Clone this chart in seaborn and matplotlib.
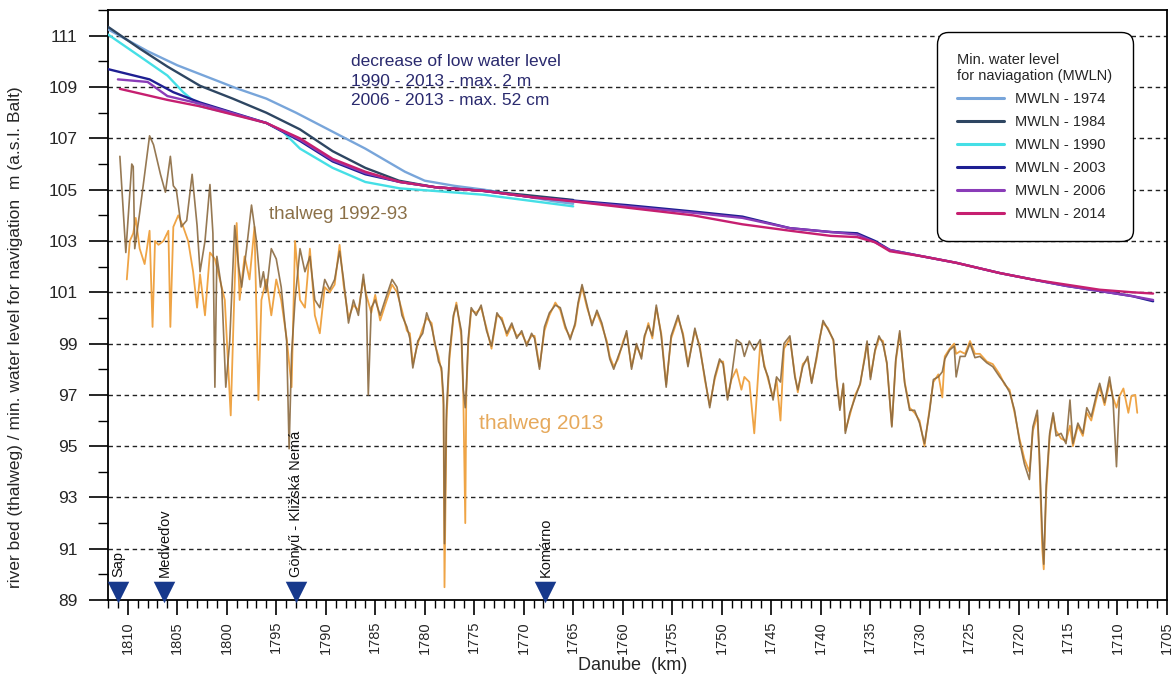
import matplotlib
matplotlib.use("Agg")
import matplotlib.pyplot as plt
import seaborn as sns
from matplotlib.ticker import MultipleLocator

# --- minimum water level for navigation (MWLN), river km vs m a.s.l. ---
km_1974 = [1812, 1808, 1805, 1802, 1799, 1796, 1793, 1790, 1788, 1786, 1784, 1782,
           1780, 1777, 1774, 1770, 1767, 1765]
wl_1974 = [111.25, 110.4, 109.85, 109.4, 108.95, 108.55, 108.0, 107.4, 107.0, 106.6,
           106.15, 105.7, 105.35, 105.15, 105.0, 104.75, 104.55, 104.45]

km_1984 = [1812, 1808.8, 1806, 1802.7, 1799.4, 1796, 1792.6, 1789.3, 1786, 1782.6,
           1779, 1774, 1770, 1765]
wl_1984 = [111.35, 110.5, 109.8, 109.05, 108.55, 108.0, 107.35, 106.5, 105.85, 105.35,
           105.1, 104.95, 104.8, 104.6]

km_1990 = [1812, 1808.8, 1806, 1804.4, 1802.7, 1799.4, 1796, 1794.3, 1792.6, 1789.3,
           1786, 1782.5, 1779, 1774, 1770, 1765]
wl_1990 = [111.05, 110.2, 109.45, 108.8, 108.25, 107.95, 107.6, 107.25, 106.6, 105.85,
           105.3, 105.05, 104.95, 104.8, 104.6, 104.35]

km_2003 = [1812, 1807.8, 1805.4, 1802.7, 1796, 1792.6, 1789.3, 1786, 1782.5, 1779,
           1774, 1769, 1766.3, 1759.6, 1752.9, 1747.9, 1743.1, 1739, 1736.3, 1734.5,
           1733, 1729.7, 1726.3, 1721.9, 1718.6, 1715.2, 1711.8, 1708.5, 1706.4]
wl_2003 = [109.7, 109.3, 108.8, 108.4, 107.6, 106.9, 106.1, 105.6, 105.3, 105.1,
           104.95, 104.7, 104.62, 104.4, 104.15, 103.95, 103.5, 103.35, 103.3, 103.0,
           102.65, 102.4, 102.15, 101.75, 101.5, 101.25, 101.05, 100.85, 100.65]

km_2006 = [1811, 1808, 1806, 1802.7, 1796, 1792.6, 1789.3, 1786, 1782.5, 1779,
           1774, 1769, 1766.3, 1759.6, 1752.9, 1747.9, 1743.1, 1739, 1736.3, 1734.5,
           1733, 1729.7, 1726.3, 1721.9, 1718.6, 1715.2, 1711.8, 1708.5, 1706.4]
wl_2006 = [109.3, 109.2, 108.65, 108.35, 107.6, 106.95, 106.15, 105.65, 105.3, 105.1,
           104.95, 104.7, 104.6, 104.35, 104.1, 103.9, 103.5, 103.35, 103.25, 102.95,
           102.65, 102.4, 102.15, 101.75, 101.5, 101.25, 101.05, 100.85, 100.7]

km_2014 = [1810.8, 1806, 1802.7, 1796, 1792.6, 1789.3, 1786, 1782.5, 1779, 1774,
           1769, 1766.3, 1759.6, 1752.9, 1747.9, 1743.1, 1739, 1736.3, 1734.5, 1733,
           1729.7, 1726.3, 1721.9, 1718.6, 1715.2, 1711.8, 1708.5, 1706.4]
wl_2014 = [108.93, 108.5, 108.25, 107.6, 107.0, 106.2, 105.7, 105.3, 105.1, 104.95,
           104.7, 104.6, 104.3, 104.0, 103.65, 103.4, 103.2, 103.15, 102.95, 102.6,
           102.4, 102.15, 101.75, 101.5, 101.3, 101.1, 101.0, 100.95]

# --- thalweg 1992-93 ---
km_tw92 = [1810.8, 1810.2, 1809.6, 1809.45, 1809.3, 1808.8, 1807.8, 1807.4, 1806.7, 1806.2,
           1805.7, 1805.4, 1805.1, 1804.6, 1804.05, 1803.5, 1803.0, 1802.7, 1802.2, 1801.7,
           1801.4, 1801.2, 1801.0, 1800.5, 1800.1, 1799.7, 1799.2, 1798.8, 1798.5, 1798.0,
           1797.5, 1797.0, 1796.6, 1796.3, 1796.0, 1795.5, 1795.0, 1794.5, 1793.95, 1793.7,
           1793.45, 1793.1, 1792.6, 1792.1, 1791.6, 1791.1, 1790.6, 1790.1, 1789.6, 1789.1,
           1788.6, 1788.2, 1787.7, 1787.2, 1786.7, 1786.2, 1785.9, 1785.7, 1785.4, 1785.0,
           1784.5, 1784.0, 1783.3, 1782.8, 1782.3, 1781.8, 1781.5, 1781.2, 1780.7, 1780.2,
           1779.8, 1779.3, 1779.0, 1778.6, 1778.3, 1778.1, 1778.0, 1777.8, 1777.5, 1777.1,
           1776.8, 1776.3, 1776.1, 1775.9, 1775.8, 1775.6, 1775.3, 1774.8, 1774.3, 1773.75,
           1773.25, 1772.7, 1772.2, 1771.7, 1771.2, 1770.7, 1770.2, 1769.7, 1769.2, 1768.9,
           1768.4, 1767.9, 1767.4, 1766.8, 1766.3, 1765.8, 1765.3, 1764.8, 1764.5, 1764.1,
           1763.6, 1763.1, 1762.6, 1762.1, 1761.6, 1761.3, 1760.9, 1760.45, 1759.95, 1759.6,
           1759.1, 1758.6, 1758.1, 1757.8, 1757.4, 1757.0, 1756.6, 1756.1, 1755.6, 1755.1,
           1754.4, 1753.9, 1753.4, 1752.7, 1752.2, 1751.7, 1751.2, 1750.7, 1750.2, 1749.85,
           1749.4, 1749.0, 1748.5, 1748.0, 1747.7, 1747.2, 1746.7, 1746.1, 1745.7, 1745.3,
           1744.8, 1744.45, 1744.05, 1743.7, 1743.1, 1742.6, 1742.3, 1741.8, 1741.3, 1740.9,
           1740.4, 1740.1, 1739.75, 1739.25, 1738.7, 1738.4, 1738.05, 1737.7, 1737.5, 1737.05,
           1736.5, 1736.0, 1735.5, 1735.3, 1734.96, 1734.5, 1734.1, 1733.7, 1733.3, 1732.8,
           1732.4, 1732.0, 1731.5, 1731.0, 1730.5, 1730.0, 1729.5, 1728.97, 1728.6, 1728.1,
           1727.7, 1727.45, 1726.95, 1726.5, 1726.3, 1725.9, 1725.4, 1724.9, 1724.4, 1723.9,
           1723.2, 1722.6, 1721.9, 1721.4, 1720.9, 1720.4, 1719.9, 1719.4, 1718.9, 1718.55,
           1718.1, 1717.9, 1717.6, 1717.45, 1717.2, 1716.85, 1716.5, 1716.2, 1715.7, 1715.2,
           1714.8, 1714.5, 1714.0, 1713.5, 1713.1, 1712.65, 1712.1, 1711.8, 1711.3, 1710.8,
           1710.45, 1710.1, 1709.8]
z_tw92 = [106.3, 102.55, 106.0, 105.9, 102.7, 104.1, 107.1, 106.75, 105.6, 104.9,
          106.3, 105.15, 105.0, 103.55, 103.8, 105.6, 103.6, 101.8, 103.0, 105.2,
          103.3, 97.3, 102.4, 101.1, 97.3, 99.1, 103.6, 102.0, 101.2, 102.7,
          104.4, 103.0, 101.2, 101.8, 101.0, 102.7, 102.3, 101.2, 99.1, 94.9,
          98.6, 100.7, 102.7, 101.8, 102.4, 100.7, 100.4, 101.5, 101.1, 101.5,
          102.6, 101.5, 99.8, 100.7, 100.1, 101.7, 100.7, 97.0, 100.4, 100.7,
          100.1, 100.7, 101.5, 101.2, 100.1, 99.65, 99.2, 98.05, 99.1, 99.4,
          100.2, 99.65, 99.1, 98.3, 98.05, 96.9, 91.2, 96.4, 98.6, 100.1,
          100.5, 99.5, 97.2, 96.5, 97.2, 99.2, 100.4, 100.1, 100.5, 99.5,
          98.9, 100.2, 99.9, 99.4, 99.8, 99.2, 99.5, 98.9, 99.4, 99.2,
          98.0, 99.65, 100.2, 100.5, 100.4, 99.7, 99.15, 99.8, 100.6, 101.3,
          100.5, 99.7, 100.3, 99.8, 99.0, 98.4, 98.0, 98.5, 99.0, 99.5,
          98.0, 99.0, 98.4, 99.3, 99.7, 99.3, 100.5, 99.3, 97.3, 99.3,
          100.1, 99.3, 98.1, 99.6, 98.8, 97.7, 96.5, 97.7, 98.4, 98.2,
          96.8, 97.7, 99.15, 99.0, 98.5, 99.1, 98.75, 99.15, 98.1, 97.7,
          96.8, 97.7, 97.5, 99.0, 99.3, 97.7, 97.2, 98.1, 98.5, 97.45,
          98.5, 99.15, 99.9, 99.55, 99.15, 97.6, 96.4, 97.45, 95.5, 96.3,
          96.9, 97.45, 98.5, 99.1, 97.6, 98.75, 99.3, 99.0, 98.25, 95.75,
          98.4, 99.5, 97.45, 96.4, 96.4, 95.9, 95.1, 96.4, 97.6, 97.7,
          97.9, 98.4, 98.75, 98.9, 97.7, 98.5, 98.5, 99.0, 98.45, 98.5,
          98.25, 98.1, 97.7, 97.45, 97.1, 96.4, 95.2, 94.3, 93.7, 95.75,
          96.4, 94.8, 91.6, 90.4, 93.5, 95.5, 96.3, 95.4, 95.5, 95.1,
          96.8, 95.1, 95.9, 95.5, 96.5, 96.15, 97.05, 97.45, 96.7, 97.7,
          96.8, 94.2, 96.9]

# --- thalweg 2013 ---
km_tw13 = [1810.1, 1809.8, 1809.45, 1809.2, 1808.8, 1808.3, 1807.8, 1807.5, 1807.25, 1806.9,
           1806.4, 1805.9, 1805.7, 1805.4, 1804.9, 1804.4, 1803.9, 1803.4, 1803.0, 1802.7,
           1802.2, 1801.7, 1801.2, 1800.7, 1800.2, 1799.6, 1799.3, 1799.0, 1798.7, 1798.2,
           1797.7, 1797.2, 1796.8, 1796.5, 1796.0, 1795.5, 1795.0, 1794.5, 1793.95, 1793.45,
           1793.1, 1792.6, 1792.1, 1791.6, 1791.1, 1790.6, 1790.1, 1789.6, 1789.1, 1788.6,
           1788.2, 1787.7, 1787.2, 1786.7, 1786.2, 1785.9, 1785.4, 1785.0, 1784.5, 1784.0,
           1783.3, 1782.8, 1782.3, 1781.8, 1781.5, 1781.2, 1780.7, 1780.2, 1779.8, 1779.3,
           1779.0, 1778.6, 1778.3, 1778.1, 1778.0, 1777.8, 1777.5, 1777.1, 1776.8, 1776.3,
           1776.1, 1775.9, 1775.8, 1775.6, 1775.3, 1774.8, 1774.3, 1773.75, 1773.25, 1772.7,
           1772.2, 1771.7, 1771.2, 1770.7, 1770.2, 1769.7, 1769.2, 1768.9, 1768.4, 1767.9,
           1767.4, 1766.8, 1766.3, 1765.8, 1765.3, 1764.8, 1764.5, 1764.1, 1763.6, 1763.1,
           1762.6, 1762.1, 1761.6, 1761.3, 1760.9, 1760.45, 1759.95, 1759.6, 1759.1, 1758.6,
           1758.1, 1757.8, 1757.4, 1757.0, 1756.6, 1756.1, 1755.6, 1755.1, 1754.4, 1753.9,
           1753.4, 1752.7, 1752.2, 1751.7, 1751.2, 1750.7, 1750.2, 1749.85, 1749.4, 1749.0,
           1748.5, 1748.0, 1747.7, 1747.2, 1746.7, 1746.1, 1745.7, 1745.3, 1744.8, 1744.45,
           1744.05, 1743.7, 1743.1, 1742.6, 1742.3, 1741.8, 1741.3, 1740.9, 1740.4, 1740.1,
           1739.75, 1739.25, 1738.7, 1738.4, 1738.05, 1737.7, 1737.5, 1737.05, 1736.5, 1736.0,
           1735.5, 1735.3, 1734.96, 1734.5, 1734.1, 1733.7, 1733.3, 1732.8, 1732.4, 1732.0,
           1731.5, 1731.0, 1730.5, 1730.0, 1729.5, 1728.97, 1728.6, 1728.1, 1727.7, 1727.45,
           1726.95, 1726.5, 1726.3, 1725.9, 1725.4, 1724.9, 1724.4, 1723.9, 1723.2, 1722.6,
           1721.9, 1721.4, 1720.9, 1720.4, 1719.9, 1719.4, 1718.9, 1718.55, 1718.1, 1717.9,
           1717.6, 1717.45, 1717.2, 1716.85, 1716.5, 1716.2, 1715.7, 1715.2, 1714.8, 1714.5,
           1714.0, 1713.5, 1713.1, 1712.65, 1712.1, 1711.8, 1711.3, 1710.8, 1710.45, 1710.1,
           1709.8, 1709.4, 1708.9, 1708.6, 1708.2, 1708.0]
z_tw13 = [101.5, 103.0, 103.3, 103.9, 102.7, 102.1, 103.4, 99.65, 103.0, 102.85,
          103.0, 103.4, 99.65, 103.55, 104.0, 103.55, 103.0, 101.8, 100.4, 101.7,
          100.1, 102.55, 102.3, 101.5, 100.7, 96.2, 100.1, 103.7, 100.7, 102.4,
          101.5, 103.55, 96.8, 100.7, 101.5, 100.1, 101.5, 100.7, 99.2, 97.3,
          103.0, 100.7, 100.4, 102.7, 100.1, 99.4, 101.2, 101.0, 101.3, 102.85,
          101.3, 100.0, 100.5, 100.3, 101.5, 100.9, 100.2, 100.9, 99.9, 100.5,
          101.3, 101.0, 100.3, 99.5, 99.4, 98.2, 99.0, 99.6, 100.0, 99.8,
          99.0, 98.5, 97.9, 96.6, 89.5, 96.0, 98.4, 100.0, 100.6, 99.3,
          97.0, 92.0, 97.0, 99.0, 100.3, 100.2, 100.4, 99.6, 98.8, 100.1,
          100.0, 99.3, 99.7, 99.3, 99.4, 99.0, 99.3, 99.3, 98.1, 99.5,
          100.1, 100.6, 100.3, 99.6, 99.25, 99.7, 100.5, 101.2, 100.4, 99.8,
          100.2, 99.7, 99.1, 98.5, 98.1, 98.4, 99.1, 99.4, 98.1, 98.9,
          98.5, 99.2, 99.8, 99.2, 100.4, 99.4, 97.4, 99.2, 100.0, 99.4,
          98.2, 99.5, 98.9, 97.6, 96.6, 97.6, 98.3, 98.3, 96.9, 97.6,
          98.0, 97.2, 97.7, 97.5, 95.5, 99.0, 98.2, 97.6, 96.9, 97.6,
          96.0, 98.8, 99.2, 97.8, 97.1, 98.2, 98.4, 97.5, 98.4, 99.2,
          99.8, 99.6, 99.1, 97.7, 96.5, 97.4, 95.6, 96.2, 97.0, 97.4,
          98.6, 99.0, 97.7, 98.7, 99.2, 99.1, 98.2, 95.8, 98.3, 99.4,
          97.5, 96.5, 96.3, 96.0, 95.0, 96.5, 97.5, 97.8, 96.9, 98.5,
          98.8, 99.0, 98.6, 98.7, 98.6, 99.1, 98.6, 98.6, 98.3, 98.2,
          97.8, 97.4, 97.2, 96.3, 95.3, 94.5, 94.0, 95.6, 96.2, 94.6,
          91.0, 90.2, 93.2, 95.4, 96.2, 95.6, 95.3, 95.2, 95.8, 95.0,
          95.8, 95.4, 96.3, 96.0, 96.9, 97.3, 96.6, 97.5, 96.9, 96.5,
          96.95, 97.25, 96.3, 96.95, 97.0, 96.3]

# --- gauging stations ---
station_names = ["Sap", "Medveďov", "Gönyű - Kližská Nemá", "Komárno"]
station_km = [1811.0, 1806.3, 1793.0, 1767.8]

mwln_labels = ["MWLN - 1974", "MWLN - 1984", "MWLN - 1990",
               "MWLN - 2003", "MWLN - 2006", "MWLN - 2014"]
mwln_colors = ["#78a5da", "#2e4662", "#45dfe6", "#1e1f92", "#8a3cb8", "#c61f70"]

sns.set_theme(style="ticks")
plt.rcParams["font.family"] = ["Liberation Sans", "DejaVu Sans"]

fig = plt.figure(figsize=(11.74, 6.75), dpi=100)
ax = fig.add_axes([0.092, 0.111, 0.902, 0.874])

# horizontal dashed grid at the labelled levels
for lev in range(91, 112, 2):
    ax.axhline(lev, color="#222222", lw=1.0, ls=(0, (3.2, 2.6)), zorder=1)

sns.lineplot(x=km_tw13, y=z_tw13, ax=ax, color="#efa445", lw=1.3,
             estimator=None, sort=False, zorder=2)
sns.lineplot(x=km_tw92, y=z_tw92, ax=ax, color="#8b6a40", lw=1.2, alpha=0.9,
             estimator=None, sort=False, zorder=3)

mwln_km = [km_1974, km_1984, km_1990, km_2003, km_2006, km_2014]
mwln_wl = [wl_1974, wl_1984, wl_1990, wl_2003, wl_2006, wl_2014]
handles = []
for xs, ys, lab, col in zip(mwln_km, mwln_wl, mwln_labels, mwln_colors):
    sns.lineplot(x=xs, y=ys, ax=ax, color=col, lw=1.7, estimator=None,
                 sort=False, zorder=4)
    handles.append(plt.Line2D([], [], color=col, lw=2.2, label=lab))

# stations
ax.scatter(station_km, [89.3] * len(station_km), marker="v", s=240,
           color="#17398c", clip_on=False, zorder=6, linewidths=0)
for name, k in zip(station_names, station_km):
    ax.text(k, 89.9, name, rotation=90, ha="center", va="bottom",
            fontsize=10.5, color="#111111")

# annotations
ax.text(1787.4, 110.3, "decrease of low water level\n1990 - 2013 - max. 2 m\n"
        "2006 - 2013 - max. 52 cm", color="#2a2a6e", fontsize=12.5,
        va="top", ha="left", linespacing=1.4)
ax.text(1795.7, 104.05, "thalweg 1992-93", color="#8b7048", fontsize=13.5,
        va="center", ha="left")
ax.text(1774.5, 95.9, "thalweg 2013", color="#e6a95c", fontsize=15,
        va="center", ha="left")

# axes
ax.set_xlim(1812, 1705)
ax.set_ylim(89, 112)
ax.xaxis.set_major_locator(MultipleLocator(5))
ax.xaxis.set_minor_locator(MultipleLocator(1))
ax.yaxis.set_major_locator(MultipleLocator(2, offset=1))
ax.yaxis.set_minor_locator(MultipleLocator(2))
ax.tick_params(axis="x", which="major", length=11, width=1.2, direction="out",
               labelsize=10.5, labelrotation=90, pad=4, color="black")
ax.tick_params(axis="x", which="minor", length=6, width=1.0, direction="out",
               color="black")
ax.tick_params(axis="y", which="major", length=14, width=1.2, direction="out",
               labelsize=12.5, pad=8, color="black")
ax.tick_params(axis="y", which="minor", length=7, width=1.0, direction="out",
               color="black")
for sp in ax.spines.values():
    sp.set_color("black")
    sp.set_linewidth(1.3)

ax.set_xlabel("Danube  (km)", fontsize=13)
ax.xaxis.set_label_coords(0.495, -0.097)
ax.set_ylabel("river bed (thalweg) / min. water level for navigation  m (a.s.l. Balt)",
              fontsize=12.5)
ax.yaxis.set_label_coords(-0.08, 0.445)

leg = ax.legend(handles=handles, title="Min. water level\nfor naviagation (MWLN)",
                loc="upper right", bbox_to_anchor=(0.9745, 0.975), fontsize=10.5,
                title_fontsize=10.5, frameon=True, fancybox=True, framealpha=1,
                edgecolor="black", handlelength=3.2, labelspacing=0.62,
                borderpad=1.4, alignment="left")
leg.get_frame().set_linewidth(1.0)
leg.get_frame().set_boxstyle("round", pad=0, rounding_size=0.8)
leg.set_zorder(7)

fig.savefig("out.png", dpi=100)
